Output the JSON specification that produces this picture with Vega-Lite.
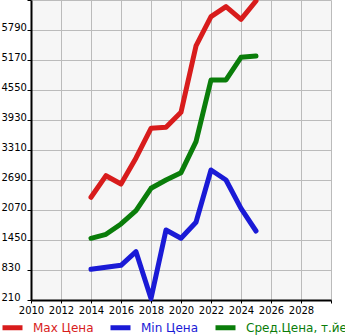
{
  "$schema": "https://vega.github.io/schema/vega-lite/v6.json",
  "width": 300,
  "height": 300,
  "autosize": {"type": "none"},
  "padding": {"left": 31, "top": 0, "right": 14, "bottom": 35},
  "background": "white",
  "config": {
    "view": {"fill": "#f6f6f6", "stroke": null},
    "font": "DejaVu Sans"
  },
  "data": {
    "values": [
      {"year": 2014, "series": "Max Цена", "value": 2333},
      {"year": 2015, "series": "Max Цена", "value": 2779},
      {"year": 2016, "series": "Max Цена", "value": 2607},
      {"year": 2017, "series": "Max Цена", "value": 3145},
      {"year": 2018, "series": "Max Цена", "value": 3758},
      {"year": 2019, "series": "Max Цена", "value": 3779},
      {"year": 2020, "series": "Max Цена", "value": 4090},
      {"year": 2021, "series": "Max Цена", "value": 5460},
      {"year": 2022, "series": "Max Цена", "value": 6066},
      {"year": 2023, "series": "Max Цена", "value": 6273},
      {"year": 2024, "series": "Max Цена", "value": 6010},
      {"year": 2025, "series": "Max Цена", "value": 6390},
      {"year": 2014, "series": "Min Цена", "value": 844},
      {"year": 2015, "series": "Min Цена", "value": 886},
      {"year": 2016, "series": "Min Цена", "value": 927},
      {"year": 2017, "series": "Min Цена", "value": 1208},
      {"year": 2018, "series": "Min Цена", "value": 240},
      {"year": 2019, "series": "Min Цена", "value": 1657},
      {"year": 2020, "series": "Min Цена", "value": 1485},
      {"year": 2021, "series": "Min Цена", "value": 1816},
      {"year": 2022, "series": "Min Цена", "value": 2897},
      {"year": 2023, "series": "Min Цена", "value": 2690},
      {"year": 2024, "series": "Min Цена", "value": 2105},
      {"year": 2025, "series": "Min Цена", "value": 1636},
      {"year": 2014, "series": "Сред.Цена, т.йен", "value": 1485},
      {"year": 2015, "series": "Сред.Цена, т.йен", "value": 1568},
      {"year": 2016, "series": "Сред.Цена, т.йен", "value": 1781},
      {"year": 2017, "series": "Сред.Цена, т.йен", "value": 2056},
      {"year": 2018, "series": "Сред.Цена, т.йен", "value": 2519},
      {"year": 2019, "series": "Сред.Цена, т.йен", "value": 2690},
      {"year": 2020, "series": "Сред.Цена, т.йен", "value": 2841},
      {"year": 2021, "series": "Сред.Цена, т.йен", "value": 3482},
      {"year": 2022, "series": "Сред.Цена, т.йен", "value": 4757},
      {"year": 2023, "series": "Сред.Цена, т.йен", "value": 4757},
      {"year": 2024, "series": "Сред.Цена, т.йен", "value": 5226},
      {"year": 2025, "series": "Сред.Цена, т.йен", "value": 5253}
    ]
  },
  "mark": {"type": "line", "strokeWidth": 5, "strokeCap": "round", "strokeJoin": "round"},
  "encoding": {
    "x": {
      "field": "year",
      "type": "quantitative",
      "scale": {"domain": [2010, 2030], "nice": false, "zero": false},
      "axis": {
        "title": null,
        "values": [2010, 2012, 2014, 2016, 2018, 2020, 2022, 2024, 2026, 2028, 2030],
        "labelExpr": "datum.value == 2030 ? '' : datum.label",
        "format": "d",
        "grid": true,
        "gridColor": "#bbbbbb",
        "gridWidth": 1,
        "domainColor": "black",
        "domainWidth": 2,
        "tickColor": "black",
        "tickSize": 3,
        "labelFont": "DejaVu Sans",
        "labelFontSize": 10,
        "labelColor": "black",
        "labelPadding": 2,
        "labelFlush": false,
        "labelOverlap": false
      }
    },
    "y": {
      "field": "value",
      "type": "quantitative",
      "scale": {"domain": [210, 6410], "nice": false, "zero": false},
      "axis": {
        "title": null,
        "values": [210, 830, 1450, 2070, 2690, 3310, 3930, 4550, 5170, 5790, 6410],
        "format": "d",
        "labelExpr": "datum.value == 6410 ? '' : datum.label",
        "grid": true,
        "gridColor": "#bbbbbb",
        "gridWidth": 1,
        "domainColor": "black",
        "domainWidth": 2,
        "tickColor": "black",
        "tickSize": 4,
        "labelFont": "DejaVu Sans",
        "labelFontSize": 10,
        "labelColor": "black",
        "labelAlign": "left",
        "labelBaseline": "alphabetic",
        "labelPadding": 26,
        "labelFlush": false,
        "labelOverlap": false
      }
    },
    "color": {
      "field": "series",
      "type": "nominal",
      "scale": {
        "domain": ["Max Цена", "Min Цена", "Сред.Цена, т.йен"],
        "range": ["#d81c1c", "#1a1ad6", "#0a7d0a"]
      },
      "legend": {
        "title": null,
        "orient": "none",
        "direction": "horizontal",
        "legendX": -31,
        "legendY": 315,
        "symbolType": "stroke",
        "symbolStrokeWidth": 5,
        "symbolSize": 400,
        "labelFont": "DejaVu Sans",
        "labelFontSize": 12,
        "labelOffset": 8,
        "columnPadding": 6,
        "labelLimit": 300,
        "labelColor": {"expr": "datum.value == 'Max Цена' ? '#d81c1c' : datum.value == 'Min Цена' ? '#1a1ad6' : '#0a7d0a'"}
      }
    }
  }
}
